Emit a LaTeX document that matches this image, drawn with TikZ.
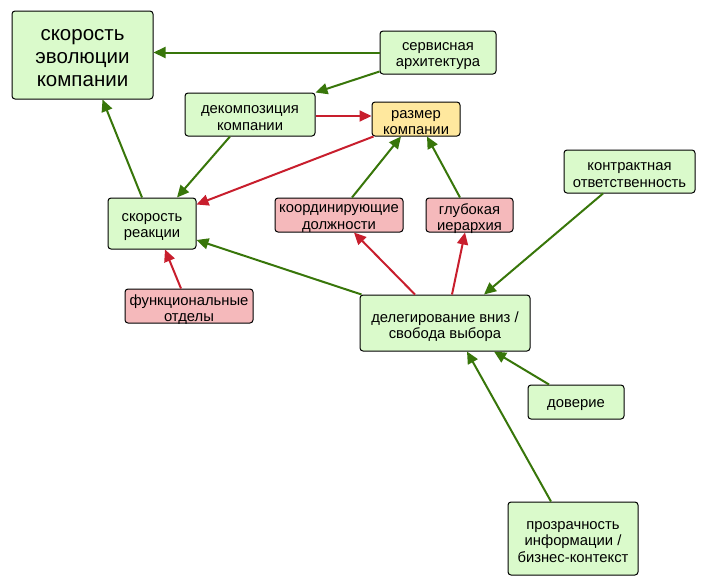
\documentclass[tikz,border=0pt]{standalone}
\usepackage{fontspec}
\setmainfont{Liberation Sans}
\usetikzlibrary{arrows.meta}
\definecolor{gfill}{RGB}{218,250,203}
\definecolor{rfill}{RGB}{245,185,187}
\definecolor{yfill}{RGB}{255,232,158}
\definecolor{garrow}{RGB}{56,118,10}
\definecolor{rarrow}{RGB}{200,30,45}
\tikzset{
  box/.style={draw=black, line width=1pt, rounded corners=3pt, inner sep=0pt},
  gbox/.style={box, fill=gfill},
  rbox/.style={box, fill=rfill},
  ybox/.style={box, fill=yfill},
  lbl/.style={align=center, inner sep=0pt, yshift=-3.5pt, font=\fontsize{14.8}{16.5}\selectfont},
  biglbl/.style={lbl, font=\fontsize{20.5}{23}\selectfont},
  garr/.style={draw=garrow, line width=2pt, -{Triangle[length=12pt,width=11pt]}},
  rarr/.style={draw=rarrow, line width=2pt, -{Triangle[length=12pt,width=11pt]}},
}
\begin{document}
\begin{tikzpicture}[x=1pt,y=-1pt]
\useasboundingbox (0,0) rectangle (707,587);
\node[gbox, minimum width=141pt, minimum height=88pt, label={[biglbl, name=evoT]center:скорость\\эволюции\\компании}] (evo) at (82.5,55) {};
\node[gbox, minimum width=116pt, minimum height=43pt, label={[lbl, name=servT]center:сервисная\\архитектура}] (serv) at (438,52.5) {};
\node[gbox, minimum width=130pt, minimum height=43pt, label={[lbl, name=dekT]center:декомпозиция\\компании}] (dek) at (250,114.5) {};
\node[ybox, minimum width=88pt, minimum height=34pt, label={[lbl, name=razmerT]center:размер\\компании}] (razmer) at (416,119) {};
\node[gbox, minimum width=131pt, minimum height=43pt, label={[lbl, name=kontrT]center:контрактная\\ответственность}] (kontr) at (629.5,171.5) {};
\node[gbox, minimum width=88pt, minimum height=51pt, label={[lbl, name=skorT]center:скорость\\реакции}] (skor) at (152,223.5) {};
\node[rbox, minimum width=128pt, minimum height=34pt, label={[lbl, name=koordT]center:координирующие\\должности}] (koord) at (339,215) {};
\node[rbox, minimum width=87pt, minimum height=34pt, label={[lbl, name=glubT]center:глубокая\\иерархия}] (glub) at (469.5,215) {};
\node[rbox, minimum width=128pt, minimum height=34pt, label={[lbl, name=funcT]center:функциональные\\отделы}] (func) at (189,306) {};
\node[gbox, minimum width=170pt, minimum height=56pt, label={[lbl, name=delegT]center:делегирование вниз /\\свобода выбора}] (deleg) at (445,323) {};
\node[gbox, minimum width=96pt, minimum height=34pt, label={[lbl, name=doverT]center:доверие}] (dover) at (576,402) {};
\node[gbox, minimum width=130pt, minimum height=73pt, label={[lbl, name=prozrT]center:прозрачность\\информации /\\бизнес-контекст}] (prozr) at (573,538.5) {};

\draw[garr] (serv.west) -- (serv.west -| evo.east);
\draw[garr] ([yshift=3pt]serv.south west) -- (dek.north east);
\draw[rarr] ([yshift=-1.5pt]dek.east) -- ([yshift=-1.5pt]dek.east -| razmer.west);
\draw[rarr] ([xshift=2pt]razmer.south west) -- ([yshift=-7pt]skor.north east);
\draw[garr] ([xshift=-20pt]dek.south) -- ([xshift=25pt]skor.north);
\draw[garr] ([xshift=-10pt]skor.north) -- ([xshift=20pt]evo.south);
\draw[garr] ([xshift=13pt]koord.north) -- ([xshift=-15pt]razmer.south);
\draw[garr] ([xshift=-9.5pt]glub.north) -- ([xshift=11pt]razmer.south);
\draw[garr] ([xshift=-26.5pt]kontr.south) -- ([xshift=39pt]deleg.north);
\draw[garr] ([xshift=2pt]deleg.north west) -- ([yshift=-16.5pt]skor.east);
\draw[rarr] ([xshift=-30pt]deleg.north) -- ([xshift=15pt]koord.south);
\draw[rarr] ([xshift=7pt]deleg.north) -- ([xshift=-4.5pt]glub.south);
\draw[rarr] ([xshift=-8pt]func.north) -- ([xshift=13pt]skor.south);
\draw[garr] ([xshift=-27pt]dover.north) -- ([xshift=49pt]deleg.south);
\draw[garr] ([xshift=-22pt]prozr.north) -- ([xshift=22pt]deleg.south);
\end{tikzpicture}
\end{document}
